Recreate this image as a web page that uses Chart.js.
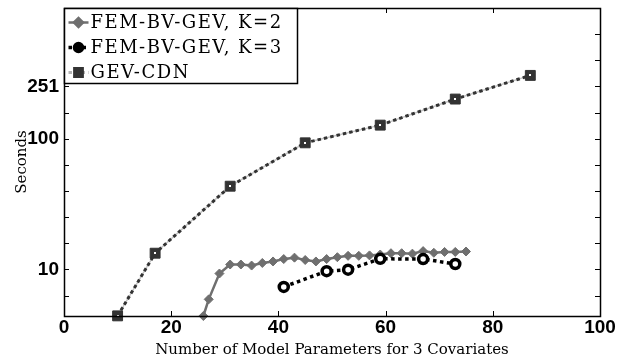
<!DOCTYPE html>
<html>
<head>
<meta charset="utf-8">
<script src="https://cdn.jsdelivr.net/npm/chart.js@4.4.0/dist/chart.umd.min.js"></script>
<style>
    html, body { margin: 0; padding: 0; background: #fff; }
</style>
</head>
<body>
<canvas id="grafico-tempos" width="617" height="362"></canvas>
<script>
// Dados: número de parâmetros (x) e tempo em segundos (y, escala log)
const xK2 = [26, 27, 29, 31, 33, 35, 37, 39, 41, 43, 45, 47, 49, 51, 53, 55, 57, 59, 61, 63, 65, 67, 69, 71, 73, 75]
const tempoK2 = [4.4, 5.9, 9.3, 10.9, 10.9, 10.7, 11.2, 11.5, 12.0, 12.3, 11.8, 11.5, 12.0, 12.4, 12.7, 12.7, 12.8, 13.0, 13.3, 13.3, 13.2, 13.8, 13.4, 13.6, 13.6, 13.7]
const xK3 = [41, 49, 53, 59, 67, 73]
const tempoK3 = [7.35, 9.7, 9.95, 12.05, 12.0, 11.0]
const xCdn = [10, 17, 31, 45, 59, 73, 87]
const tempoCdn = [4.41, 13.3, 43.3, 93, 127, 201, 305]
const nomesSeries = ['FEM-BV-GEV, K=2', 'FEM-BV-GEV, K=3', 'GEV-CDN']
const xTicks = [0, 20, 40, 60, 80, 100]
const yTicksRotulados = [10, 100, 251]
const yTicksMenores = [6.31, 15.85, 25.12, 39.81, 63.1, 158.5, 398.1, 631]

const serif = "'DejaVu Serif', serif"
const sans = "'Liberation Sans', Arial, sans-serif"

function montarPontos(xs, ys) {
    return xs.map((x, i) => ({ x: x, y: ys[i] }))
}

// linha cinza clara por baixo do pontilhado do GEV-CDN
const fundoPontilhado = {
    id: 'fundoPontilhado',
    beforeDatasetDraw(chart, args) {
        if (args.index !== 2) return
        const pontos = args.meta.data
        const c = chart.ctx
        c.save()
        c.strokeStyle = '#c4c4c4'
        c.lineWidth = 1.5
        c.beginPath()
        pontos.forEach((p, i) => i === 0 ? c.moveTo(p.x, p.y) : c.lineTo(p.x, p.y))
        c.stroke()
        c.restore()
    },
    afterDatasetDraw(chart, args) {
        if (args.index !== 2) return
        const c = chart.ctx
        c.save()
        c.fillStyle = '#fff'
        args.meta.data.forEach(p => c.fillRect(Math.round(p.x) - 1, Math.round(p.y) - 1, 2, 2))
        c.restore()
    }
}

// caixa em volta da área do gráfico + marcas de tick para dentro
const moldura = {
    id: 'moldura',
    afterDatasetsDraw(chart) {
        const { ctx, chartArea: a, scales } = chart
        ctx.save()
        ctx.strokeStyle = '#000'
        ctx.lineWidth = 1
        ctx.beginPath()
        scales.x.ticks.forEach(t => {
            const px = Math.round(scales.x.getPixelForValue(t.value)) + 0.5
            ctx.moveTo(px, a.bottom); ctx.lineTo(px, a.bottom - 5)
            ctx.moveTo(px, a.top); ctx.lineTo(px, a.top + 5)
        })
        scales.y.ticks.forEach(t => {
            const py = Math.round(scales.y.getPixelForValue(t.value)) + 0.5
            ctx.moveTo(a.left, py); ctx.lineTo(a.left + 5, py)
            ctx.moveTo(a.right, py); ctx.lineTo(a.right - 5, py)
        })
        ctx.stroke()
        ctx.lineWidth = 1.5
        ctx.strokeRect(Math.round(a.left) + 0.5, Math.round(a.top) + 0.5, Math.round(a.right - a.left), Math.round(a.bottom - a.top))
        ctx.restore()
    }
}

// legenda dentro da área, canto superior esquerdo
const legendaInterna = {
    id: 'legendaInterna',
    afterDraw(chart) {
        const { ctx, chartArea: a } = chart
        const x0 = Math.round(a.left) + 0.5
        const y0 = Math.round(a.top) + 0.5
        ctx.save()
        ctx.fillStyle = '#fff'
        ctx.fillRect(x0, y0, 233, 75)
        ctx.strokeStyle = '#000'
        ctx.lineWidth = 1.5
        ctx.strokeRect(x0, y0, 233, 75)
        chart.data.datasets.forEach((ds, i) => {
            const cy = y0 + 14 + i * 25
            ctx.strokeStyle = ds.amostraCor || ds.borderColor
            ctx.lineWidth = ds.borderWidth
            ctx.setLineDash(ds.borderDash || [])
            ctx.beginPath()
            ctx.moveTo(x0 + 4, cy)
            ctx.lineTo(x0 + 24, cy)
            ctx.stroke()
            ctx.setLineDash([])
            ctx.fillStyle = ds.amostraPreenchimento || ds.pointBackgroundColor
            ctx.strokeStyle = ds.pointBorderColor
            Chart.helpers.drawPoint(ctx, {
                pointStyle: ds.pointStyle,
                rotation: 0,
                radius: ds.amostraRaio || ds.pointRadius,
                borderWidth: ds.pointBorderWidth
            }, x0 + 14, cy)
            ctx.fillStyle = '#000'
            ctx.font = '18px ' + serif
            ctx.letterSpacing = '1.5px'
            ctx.textBaseline = 'middle'
            ctx.fillText(ds.label, x0 + 26, cy + 1)
            ctx.letterSpacing = '0px'
        })
        ctx.restore()
    }
}

const ctx = document.getElementById('grafico-tempos')

new Chart(ctx, {
    type: 'line',
    data: {
        datasets: [
            {
                label: nomesSeries[0],
                data: montarPontos(xK2, tempoK2),
                borderColor: '#6f6f6f',
                borderWidth: 2.5,
                pointStyle: 'rectRot',
                pointRadius: 4.5,
                pointBackgroundColor: '#6f6f6f',
                pointBorderColor: '#6f6f6f',
                pointBorderWidth: 1,
                order: 2
            },
            {
                label: nomesSeries[1],
                data: montarPontos(xK3, tempoK3),
                borderColor: '#000',
                borderWidth: 3.5,
                borderDash: [3.5, 3.5],
                pointStyle: 'circle',
                pointRadius: 4.5,
                pointBackgroundColor: '#fff',
                pointBorderColor: '#000',
                pointBorderWidth: 3.5,
                amostraPreenchimento: '#000',
                amostraRaio: 4,
                order: 1
            },
            {
                label: nomesSeries[2],
                data: montarPontos(xCdn, tempoCdn),
                borderColor: '#333',
                borderWidth: 3,
                borderDash: [3.5, 3],
                pointStyle: 'rect',
                pointRadius: 7,
                pointBackgroundColor: '#333',
                pointBorderColor: '#333',
                pointBorderWidth: 1,
                amostraCor: '#b5b5b5',
                amostraRaio: 5.5,
                order: 3
            }
        ]
    },
    options: {
        responsive: false,
        animation: false,
        devicePixelRatio: 1,
        clip: false,
        layout: { padding: { top: 5, right: 17, left: 0, bottom: 0 } },
        plugins: {
            legend: { display: false },
            tooltip: { enabled: false }
        },
        elements: { line: { tension: 0 } },
        scales: {
            x: {
                type: 'linear',
                min: 0,
                max: 100,
                afterBuildTicks: (scale) => { scale.ticks = xTicks.map(v => ({ value: v })) },
                afterFit: (scale) => { scale.height = 46 },
                grid: { display: false, drawTicks: false },
                border: { display: false },
                ticks: {
                    padding: 0,
                    color: '#000',
                    font: { family: sans, size: 19, weight: 'bold' }
                },
                title: {
                    display: true,
                    text: 'Number of Model Parameters for 3 Covariates',
                    color: '#000',
                    font: { family: serif, size: 15 },
                    padding: { top: 0, bottom: 3 }
                }
            },
            y: {
                type: 'logarithmic',
                min: 4.4,
                max: 1000,
                afterBuildTicks: (scale) => {
                    const todos = yTicksRotulados.concat(yTicksMenores).sort((a, b) => a - b)
                    scale.ticks = todos.map(v => ({ value: v }))
                },
                afterFit: (scale) => {
                    scale.width = 64
                    scale.paddingTop = 0
                    scale.paddingBottom = 0
                },
                grid: { display: false, drawTicks: false },
                border: { display: false },
                ticks: {
                    padding: 5,
                    color: '#000',
                    font: { family: sans, size: 19, weight: 'bold' },
                    callback: (valor) => yTicksRotulados.includes(valor) ? String(valor) : ''
                },
                title: {
                    display: true,
                    text: 'Seconds',
                    color: '#000',
                    font: { family: serif, size: 15 },
                    padding: { top: 13, bottom: 0 }
                }
            }
        }
    },
    plugins: [fundoPontilhado, moldura, legendaInterna]
})
</script>
</body>
</html>
